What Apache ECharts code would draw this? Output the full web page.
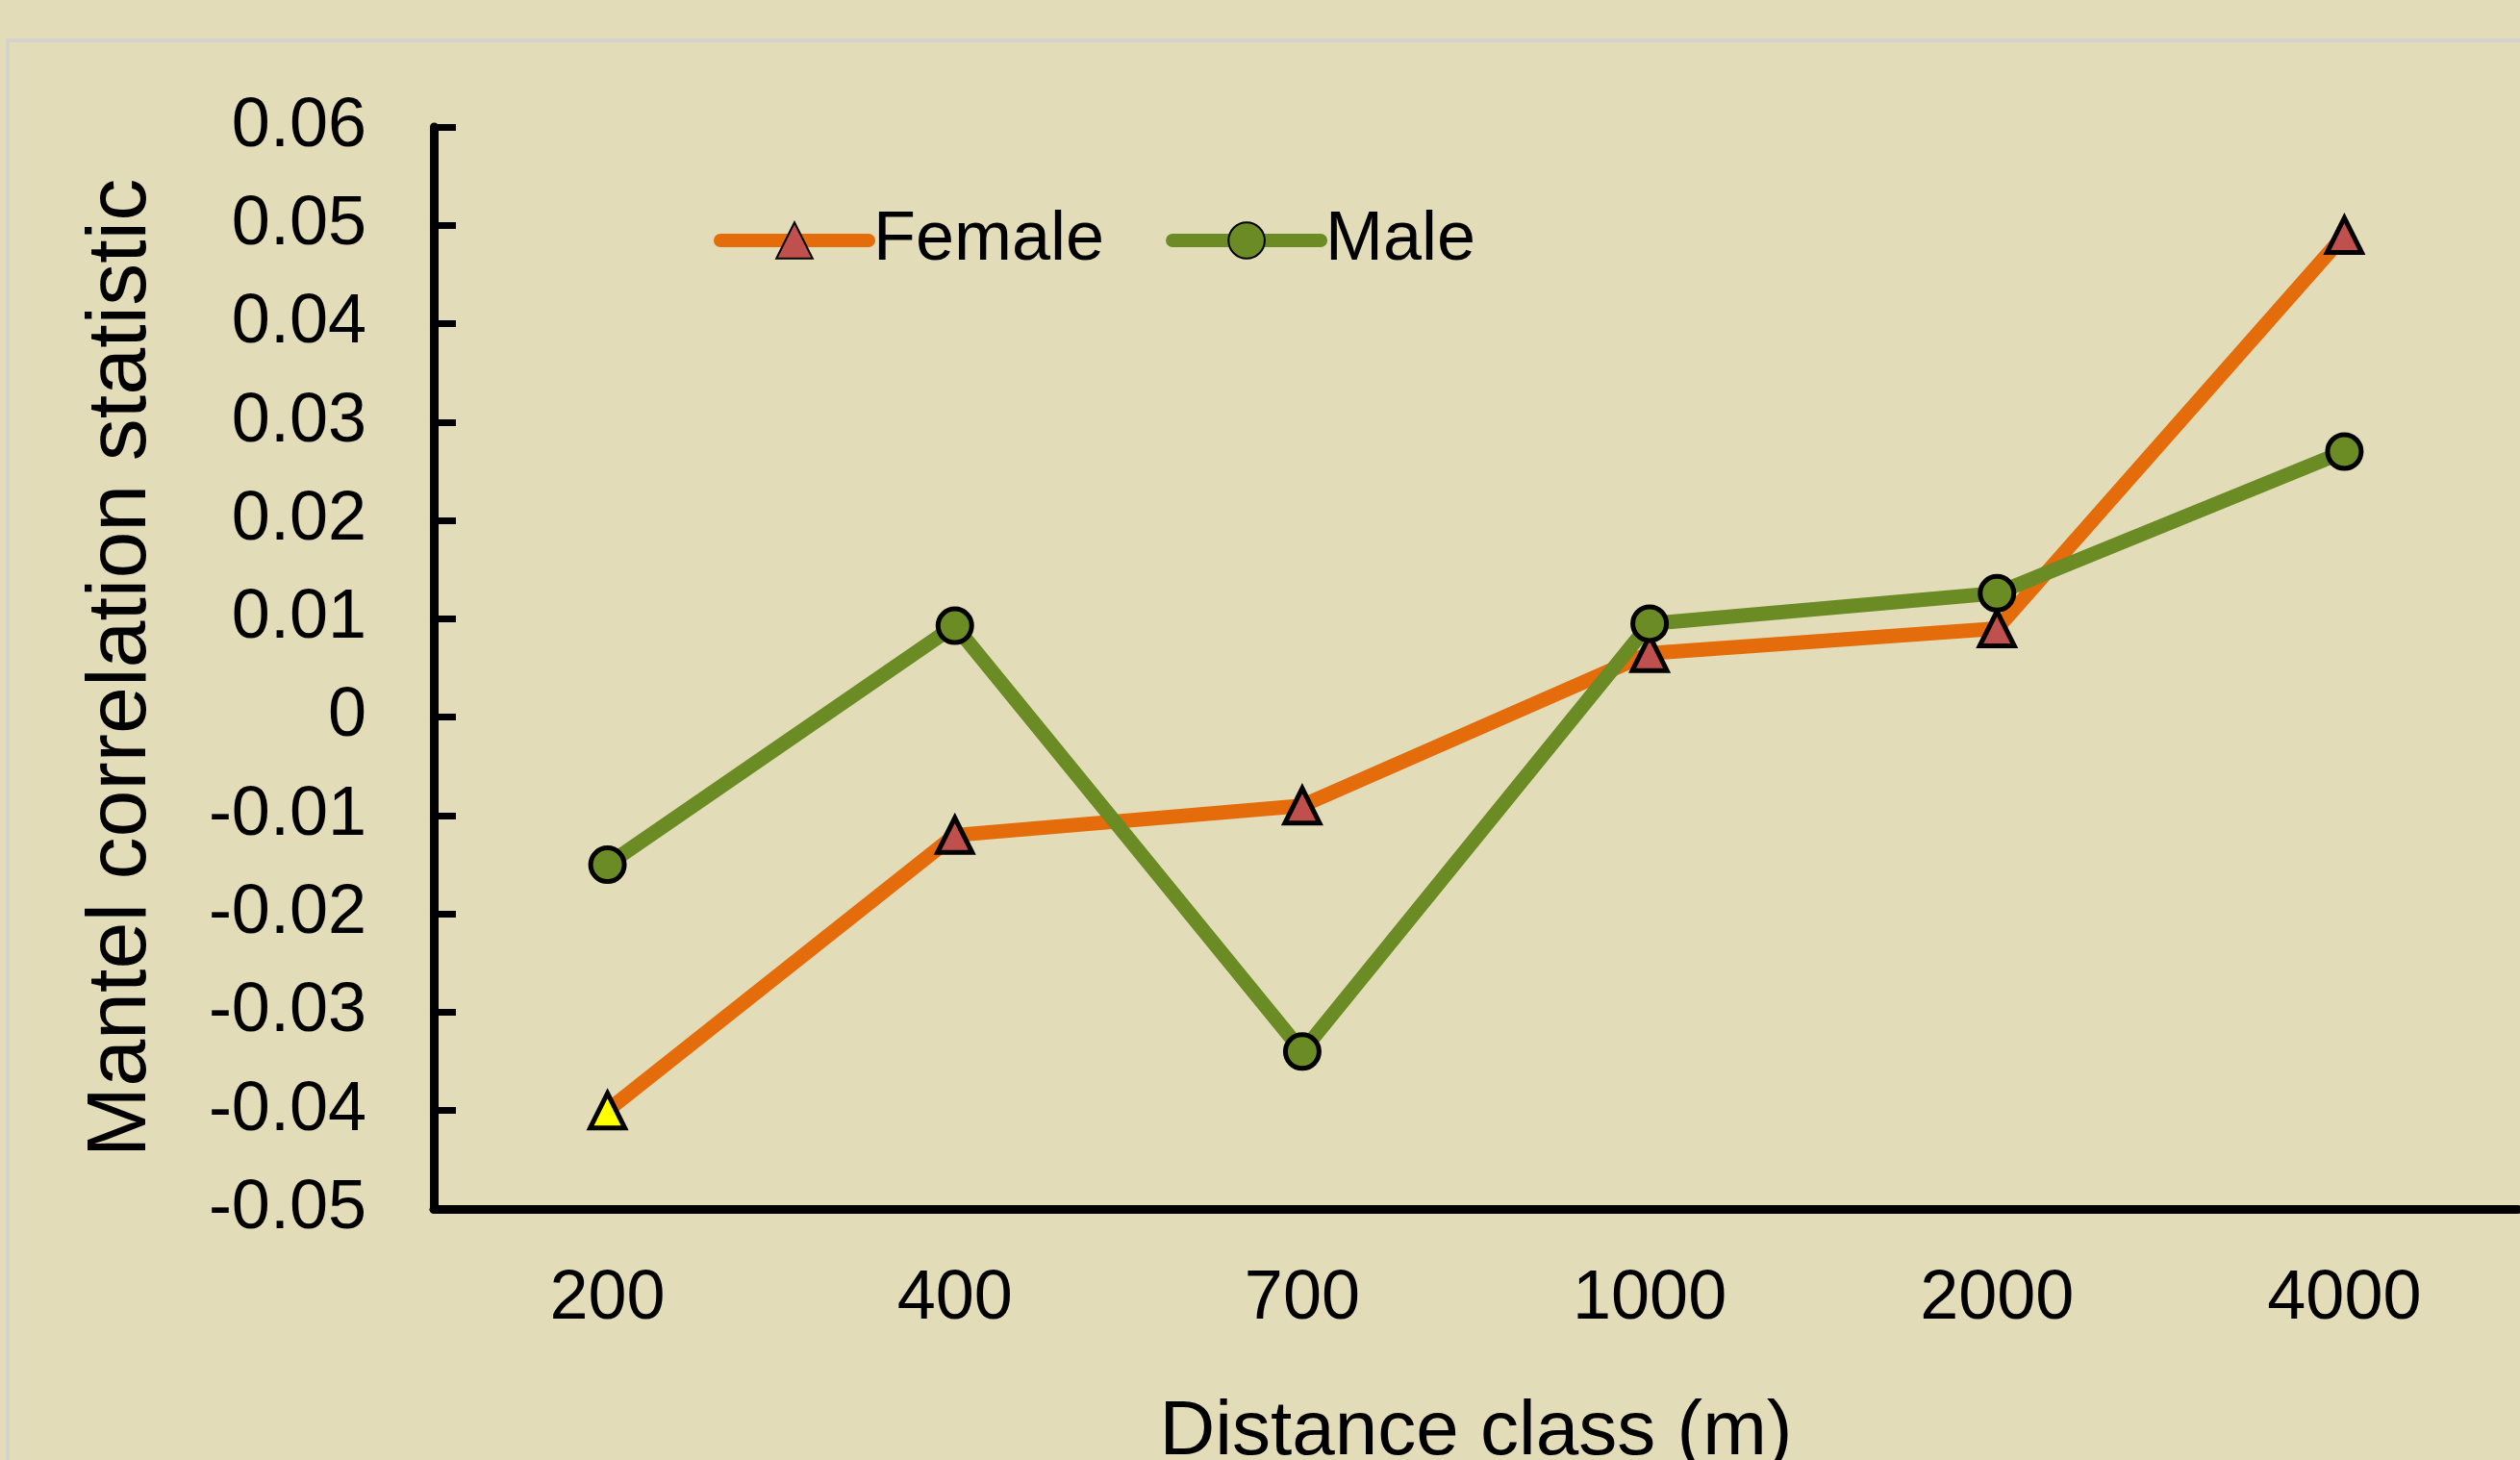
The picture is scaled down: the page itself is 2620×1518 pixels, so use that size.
<!DOCTYPE html>
<html>
<head>
<meta charset="utf-8">
<script src="https://cdn.jsdelivr.net/npm/echarts@6/dist/echarts.min.js"></script>
<style>
html,body{margin:0;padding:0;background:#E2DCB9;}
#chart{width:2620px;height:1518px;}
</style>
</head>
<body>
<div id="chart"></div>
<script>
const categories = ['200', '400', '700', '1000', '2000', '4000'];
const femaleValues = [-0.040, -0.012, -0.009, 0.0065, 0.009, 0.049];
const maleValues = [-0.015, 0.0093, -0.034, 0.0095, 0.0126, 0.027];
const yTicks = { min: -0.05, max: 0.06, interval: 0.01 };

const FONT = 'Liberation Sans';
const chart = echarts.init(document.getElementById('chart'));

const femaleData = femaleValues.map((v, i) =>
  i === 0 ? { value: v, itemStyle: { color: '#FFFF00' } } : v);

const option = {
  backgroundColor: '#E2DCB9',
  animation: false,
  textStyle: { fontFamily: FONT },
  graphic: [{
    type: 'rect',
    shape: { x: 8, y: 42, width: 2700, height: 1600 },
    style: { fill: 'none', stroke: '#D4D3CB', lineWidth: 4 },
    silent: true, z: -1
  }],
  legend: {
    left: 737, top: 209,
    itemWidth: 154, itemHeight: 47, itemGap: 64,
    textStyle: { fontSize: 72, color: '#000', fontFamily: FONT },
    lineStyle: { width: 14, cap: 'round' },
    data: ['Female', 'Male']
  },
  grid: { left: 451, right: 2, top: 132, bottom: 261, containLabel: false, outerBoundsMode: 'none' },
  xAxis: {
    type: 'category',
    data: categories,
    boundaryGap: true,
    name: 'Distance class (m)',
    nameLocation: 'middle',
    nameGap: 193,
    nameTextStyle: { fontSize: 80, color: '#000', fontFamily: FONT },
    axisLine: { onZero: false, lineStyle: { color: '#000', width: 9 } },
    axisTick: { inside: true, alignWithLabel: true, length: 20, lineStyle: { color: '#000', width: 4 } },
    axisLabel: { fontSize: 72, color: '#000', margin: 58, fontFamily: FONT },
    splitLine: { show: false }
  },
  yAxis: {
    type: 'value',
    min: yTicks.min, max: yTicks.max, interval: yTicks.interval,
    name: 'Mantel correlation statistic',
    nameLocation: 'middle',
    nameGap: 280,
    nameTextStyle: { fontSize: 88, color: '#000', fontFamily: FONT },
    axisLine: { show: true, lineStyle: { color: '#000', width: 9 } },
    axisTick: { show: true, inside: true, length: 23, lineStyle: { color: '#000', width: 7 } },
    axisLabel: {
      fontSize: 72, color: '#000', margin: 70, fontFamily: FONT,
      formatter: v => String(Math.round(v * 100) / 100)
    },
    splitLine: { show: false }
  },
  series: [
    {
      name: 'Female',
      type: 'line',
      data: femaleData,
      symbol: 'triangle',
      symbolSize: 36,
      lineStyle: { color: '#E46C0A', width: 15 },
      itemStyle: { color: '#C0504D', borderColor: '#000', borderWidth: 5 },
      z: 2
    },
    {
      name: 'Male',
      type: 'line',
      data: maleValues,
      symbol: 'circle',
      symbolSize: 35,
      lineStyle: { color: '#6B8C24', width: 15 },
      itemStyle: { color: '#6B8C24', borderColor: '#000', borderWidth: 5 },
      z: 3
    }
  ]
};
chart.setOption(option);
</script>
</body>
</html>
